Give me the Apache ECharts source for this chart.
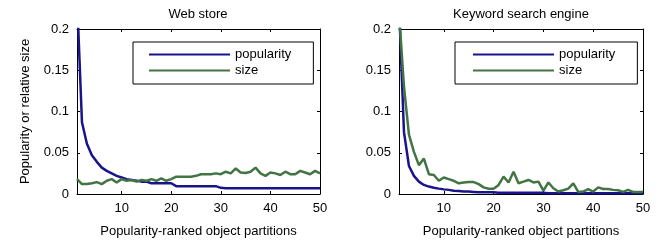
<!DOCTYPE html>
<html>
<head>
<meta charset="utf-8">
<script src="https://cdn.jsdelivr.net/npm/echarts@6/dist/echarts.min.js"></script>
<style>
  html, body { margin: 0; padding: 0; background: #fff; }
  #chart { width: 660px; height: 243px; }
</style>
</head>
<body>
<div id="chart"></div>
<script>
// rank of the object partition, 1..50
var ranks = [];
for (var r = 1; r <= 50; r++) ranks.push(r);

var xTicks = [10, 20, 30, 40, 50];

// Web store
var webPopularity = [
    0.24, 0.087, 0.061, 0.047, 0.039, 0.032, 0.028, 0.025, 0.022, 0.020,
    0.018, 0.017, 0.016, 0.015, 0.015, 0.013, 0.013, 0.013, 0.013, 0.013,
    0.0095, 0.0095, 0.0095, 0.0095, 0.0095, 0.0095, 0.0095, 0.0095, 0.0095, 0.0075,
    0.007, 0.007, 0.007, 0.007, 0.007, 0.007, 0.007, 0.007, 0.007, 0.007,
    0.007, 0.007, 0.007, 0.007, 0.007, 0.007, 0.007, 0.007, 0.007, 0.007
];
var webSize = [
    0.018, 0.012, 0.012, 0.013, 0.0144, 0.012, 0.016, 0.018, 0.014, 0.018,
    0.016, 0.017, 0.015, 0.017, 0.016, 0.018, 0.016, 0.019, 0.016, 0.018,
    0.021, 0.021, 0.021, 0.021, 0.022, 0.024, 0.024, 0.024, 0.025, 0.024,
    0.027, 0.025, 0.031, 0.026, 0.0255, 0.027, 0.032, 0.025, 0.022, 0.026,
    0.025, 0.023, 0.027, 0.024, 0.024, 0.028, 0.026, 0.024, 0.028, 0.025
];

// Keyword search engine
var kwPopularity = [
    0.23, 0.075, 0.034, 0.022, 0.015, 0.011, 0.009, 0.0075, 0.0065, 0.0056,
    0.005, 0.004, 0.0035, 0.003, 0.003, 0.0025, 0.002, 0.002, 0.002, 0.002,
    0.0015, 0.0015, 0.0015, 0.0015, 0.0015, 0.0015, 0.0015, 0.0015, 0.0015, 0.0015,
    0.001, 0.001, 0.001, 0.001, 0.001, 0.001, 0.001, 0.001, 0.001, 0.001,
    0.001, 0.001, 0.001, 0.001, 0.001, 0.001, 0.001, 0.001, 0.001, 0.001
];
var kwSize = [
    0.22, 0.13, 0.072, 0.051, 0.035, 0.043, 0.024, 0.023, 0.016, 0.020,
    0.018, 0.016, 0.013, 0.014, 0.0144, 0.0144, 0.012, 0.008, 0.0064, 0.0064,
    0.011, 0.021, 0.014, 0.027, 0.013, 0.015, 0.017, 0.014, 0.015, 0.004,
    0.014, 0.007, 0.003, 0.0045, 0.0065, 0.013, 0.0025, 0.003, 0.006, 0.003,
    0.008, 0.006, 0.006, 0.005, 0.0045, 0.0025, 0.005, 0.0025, 0.0025, 0.0025
];

var FONT = 'Liberation Sans';
var BLUE = '#1a148c';
var GREEN = '#437443';

function pairs(vals) {
    return ranks.map(function (x, i) { return [x, vals[i]]; });
}

function xAxisFor(grid, pos) {
    var bottom = pos === 'bottom';
    return {
        type: 'value', gridIndex: grid, position: pos,
        min: 1, max: 50,
        axisLine: { show: true, onZero: false, lineStyle: { color: '#000', width: 1 } },
        axisTick: { show: true, inside: true, length: 3, customValues: xTicks, lineStyle: { color: '#000' } },
        axisLabel: { show: bottom, customValues: xTicks, margin: 8, color: '#000', fontSize: 13, fontFamily: FONT },
        splitLine: { show: false },
        name: bottom ? 'Popularity-ranked object partitions' : '',
        nameLocation: 'middle', nameGap: 31,
        nameTextStyle: { color: '#000', fontSize: 13, fontFamily: FONT }
    };
}

function yAxisFor(grid, pos, withName) {
    var left = pos === 'left';
    return {
        type: 'value', gridIndex: grid, position: pos,
        min: 0, max: 0.2, interval: 0.05,
        axisLine: { show: true, onZero: false, lineStyle: { color: '#000', width: 1 } },
        axisTick: { show: true, inside: true, length: 3, lineStyle: { color: '#000' } },
        axisLabel: { show: left, margin: 8, color: '#000', fontSize: 13, fontFamily: FONT },
        splitLine: { show: false },
        name: left && withName ? 'Popularity or relative size' : '',
        nameLocation: 'middle', nameGap: 45,
        nameTextStyle: { color: '#000', fontSize: 13, fontFamily: FONT }
    };
}

function lineSeries(name, xi, yi, vals, color) {
    return {
        name: name, type: 'line',
        xAxisIndex: xi, yAxisIndex: yi,
        data: pairs(vals),
        symbol: 'none', showSymbol: false,
        lineStyle: { color: color, width: 2.5 },
        itemStyle: { color: color },
        animation: false
    };
}

function legendAt(left, padLeft) {
    return {
        data: ['popularity', 'size'],
        orient: 'vertical',
        left: left, top: 42,
        padding: [6, 22, 7, padLeft],
        itemWidth: 81, itemHeight: 14, itemGap: 3,
        itemStyle: { opacity: 0 },
        borderColor: '#000', borderWidth: 1,
        textStyle: { color: '#000', fontSize: 13, fontFamily: FONT }
    };
}

var myChart = echarts.init(document.getElementById('chart'));

var option = {
    animation: false,
    backgroundColor: '#fff',
    title: [
        { text: 'Web store', left: 198, top: 8, padding: 0, textAlign: 'center',
          textStyle: { color: '#000', fontSize: 13, fontWeight: 'normal', fontFamily: FONT } },
        { text: 'Keyword search engine', left: 521, top: 8, padding: 0, textAlign: 'center',
          textStyle: { color: '#000', fontSize: 13, fontWeight: 'normal', fontFamily: FONT } }
    ],
    legend: [legendAt(133, 15), legendAt(455, 17)],
    grid: [
        { left: 77, top: 29, width: 243, height: 167 },
        { left: 399, top: 29, width: 244, height: 167 }
    ],
    xAxis: [xAxisFor(0, 'bottom'), xAxisFor(0, 'top'), xAxisFor(1, 'bottom'), xAxisFor(1, 'top')],
    yAxis: [yAxisFor(0, 'left', true), yAxisFor(0, 'right'), yAxisFor(1, 'left', false), yAxisFor(1, 'right')],
    series: [
        lineSeries('popularity', 0, 0, webPopularity, BLUE),
        lineSeries('size', 0, 0, webSize, GREEN),
        lineSeries('popularity', 2, 2, kwPopularity, BLUE),
        lineSeries('size', 2, 2, kwSize, GREEN)
    ]
};

myChart.setOption(option);
</script>
</body>
</html>
